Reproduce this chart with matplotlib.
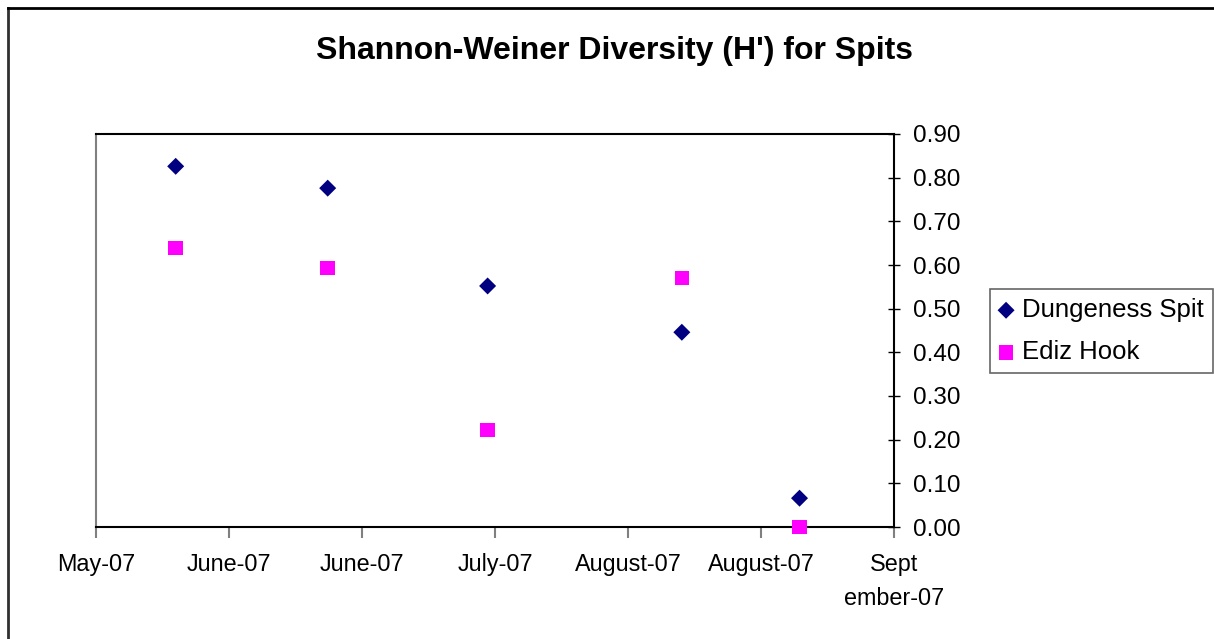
import matplotlib
matplotlib.use("Agg")
import matplotlib.pyplot as plt
import matplotlib.dates as mdates
from matplotlib.lines import Line2D
import datetime as dt

# ---- data ----
sample_dates = ["2007-05-26 14:00", "2007-06-19 14:00", "2007-07-14 20:00",
                "2007-08-14 12:00", "2007-09-02 02:00"]
dungeness = [0.826, 0.776, 0.552, 0.446, 0.066]
ediz = [0.639, 0.593, 0.222, 0.570, 0.000]
tick_dates = ["2007-05-14 00:00", "2007-06-04 00:00", "2007-06-25 00:00", "2007-07-16 00:00",
              "2007-08-06 00:00", "2007-08-27 00:00", "2007-09-17 00:00"]
tick_labels = ["May-07", "June-07", "June-07", "July-07", "August-07", "August-07",
               "Sept\nember-07"]
y_ticks = [0.0, 0.1, 0.2, 0.3, 0.4, 0.5, 0.6, 0.7, 0.8, 0.9]

plt.rcParams['font.family'] = ['Liberation Sans', 'DejaVu Sans']

def to_num(s):
    return mdates.date2num(dt.datetime.strptime(s, "%Y-%m-%d %H:%M"))

xd = [to_num(s) for s in sample_dates]
xt = [to_num(s) for s in tick_dates]

fig = plt.figure(figsize=(12.14, 6.39), dpi=100)
ax = fig.add_axes([96/1214, 1-527/639, (894-96)/1214, (527-134)/639])

ax.scatter(xd, dungeness, marker='D', s=75, color='#000080', edgecolors='none',
           label='Dungeness Spit', zorder=3, clip_on=False)
ax.scatter(xd, ediz, marker='s', s=110, color='#FF00FF', edgecolors='none',
           label='Ediz Hook', zorder=3, clip_on=False)

ax.set_xlim(xt[0], xt[-1])
ax.set_ylim(0, 0.9)
ax.set_xticks(xt)
ax.set_xticklabels(tick_labels, fontsize=16.8, linespacing=1.6)
ax.set_yticks(y_ticks)
ax.set_yticklabels([f"{v:.2f}" for v in y_ticks], fontsize=17.5)

ax.yaxis.tick_right()
ax.tick_params(axis='y', direction='inout', length=9, width=1, color='black', pad=9)
ax.tick_params(axis='x', direction='out', length=8, width=1.5, color='#808080', pad=11)

for s in ['top', 'right', 'bottom']:
    ax.spines[s].set_color('black')
    ax.spines[s].set_linewidth(1.5)
ax.spines['left'].set_color('#808080')
ax.spines['left'].set_linewidth(1.5)

fig.text(615/1214, 1-51/639, "Shannon-Weiner Diversity (H') for Spits",
         ha='center', va='center', fontsize=23, fontweight='bold')

leg = ax.legend(loc='center left', bbox_to_anchor=(990/1214, 1-331/639),
                bbox_transform=fig.transFigure, frameon=True, fancybox=False,
                fontsize=18.5, handlelength=0.55, handletextpad=0.35,
                borderpad=0.35, labelspacing=0.7, borderaxespad=0)
leg.get_frame().set_edgecolor('#404040')
leg.get_frame().set_linewidth(1.2)

# outer chart border (left and top visible)
fig.add_artist(Line2D([8/1214, 8/1214], [0, 1-8/639], transform=fig.transFigure,
                      color='#303030', linewidth=2))
fig.add_artist(Line2D([8/1214, 1], [1-8/639, 1-8/639], transform=fig.transFigure,
                      color='black', linewidth=2))

fig.savefig("out.png", dpi=100)
